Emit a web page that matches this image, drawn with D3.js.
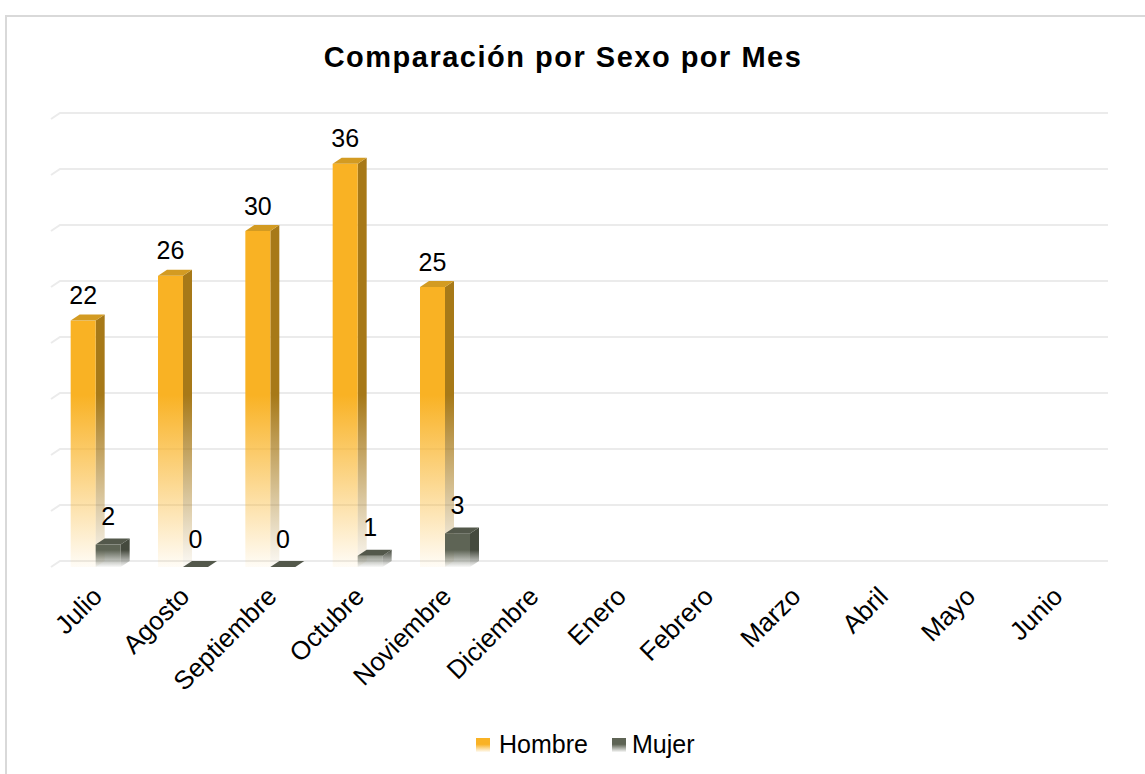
<!DOCTYPE html>
<html>
<head>
<meta charset="utf-8">
<script src="https://cdn.jsdelivr.net/npm/d3@7"></script>
<style>
  html, body { margin: 0; padding: 0; background: #ffffff; }
  svg { display: block; }
  text { font-family: "Liberation Sans", Arial, sans-serif; fill: #000; }
</style>
</head>
<body>
<script>
// ---- data ----
const months = ["Julio","Agosto","Septiembre","Octubre","Noviembre","Diciembre","Enero","Febrero","Marzo","Abril","Mayo","Junio"];
const series = ["Hombre","Mujer"];
const hombre = [22, 26, 30, 36, 25, null, null, null, null, null, null, null];
const mujer  = [2, 0, 0, 1, 3, null, null, null, null, null, null, null];
const yTicks = [0, 5, 10, 15, 20, 25, 30, 35, 40];
const title = "Comparación por Sexo por Mes";

// ---- layout ----
const W = 1145, H = 774;
const DX = 9, DY = 6;          // 3D depth offset
const svg = d3.select("body").append("svg").attr("width", W).attr("height", H);

const y = d3.scaleLinear().domain([0, 40]).range([561, 113]);   // back wall
const x0 = d3.scaleBand().domain(months).range([52, 1100]).paddingInner(0.4275).paddingOuter(0.21375);
const x1 = d3.scaleBand().domain(series).range([0, x0.bandwidth()]);

const colors = {
  Hombre: { front: "#F9B224", side: "#A77918", top: "#D39B22", fadeStart: 395, labelOff: 10.5 },
  Mujer:  { front: "#5E6455", side: "#454A3E", top: "#53584B", fadeStart: 550, labelOff: 13.5 }
};

// frame
svg.append("path").attr("d", `M6,${H} L6,16 L${W},16`).attr("fill", "none")
  .attr("stroke", "#d9d9d9").attr("stroke-width", 2);

// gradients
const defs = svg.append("defs");
const floorFront = y(0) + DY;
series.forEach(s => {
  ["front", "side"].forEach(face => {
    const g = defs.append("linearGradient").attr("id", `g-${s}-${face}`)
      .attr("gradientUnits", "userSpaceOnUse")
      .attr("x1", 0).attr("x2", 0).attr("y1", colors[s].fadeStart).attr("y2", floorFront);
    g.append("stop").attr("offset", "0%").attr("stop-color", colors[s][face]).attr("stop-opacity", 1);
    g.append("stop").attr("offset", "100%").attr("stop-color", colors[s][face]).attr("stop-opacity", 0.04);
  });
  const lg = defs.append("linearGradient").attr("id", `lg-${s}`)
    .attr("x1", 0).attr("x2", 0).attr("y1", 0).attr("y2", 1);
  lg.append("stop").attr("offset", "45%").attr("stop-color", colors[s].front).attr("stop-opacity", 1);
  lg.append("stop").attr("offset", "100%").attr("stop-color", colors[s].front).attr("stop-opacity", 0.05);
});

// gridlines (back wall + side-wall diagonal)
const x0Left = x0.range()[0];
const x0Right = x0.range()[1];
svg.append("g").selectAll("path").data(yTicks).join("path")
  .attr("d", t => `M${x0Left - 1},${y(t) + DY} L${x0Left + DX - 1},${y(t)} L${x0Right + DX - 1},${y(t)}`)
  .attr("fill", "none").attr("stroke", "#ebebeb").attr("stroke-width", 2);

// title
svg.append("text").attr("x", 563).attr("y", 66.5).attr("text-anchor", "middle")
  .style("font-size", "29px").style("font-weight", "bold").style("letter-spacing", "1.5px")
  .text(title);

// bars
const rows = [];
months.forEach((m, i) => {
  if (hombre[i] != null) rows.push({ m, s: "Hombre", v: hombre[i] });
  if (mujer[i] != null) rows.push({ m, s: "Mujer", v: mujer[i] });
});
const bw = x1.bandwidth();
const bars = svg.append("g").selectAll("g").data(rows).join("g");
bars.each(function (d) {
  const g = d3.select(this);
  const xl = x0(d.m) + x1(d.s), xr = xl + bw;
  const yt = y(d.v) + DY, yb = floorFront;
  const c = colors[d.s];
  if (d.v > 0) {
    g.append("path")
      .attr("d", `M${xr},${yt} L${xr + DX},${yt - DY} L${xr + DX},${yb - DY} L${xr},${yb} Z`)
      .attr("fill", `url(#g-${d.s}-side)`);
    g.append("rect").attr("x", xl).attr("y", yt).attr("width", bw).attr("height", yb - yt)
      .attr("fill", `url(#g-${d.s}-front)`);
  }
  g.append("path")
    .attr("d", `M${xl},${yt} L${xr},${yt} L${xr + DX},${yt - DY} L${xl + DX},${yt - DY} Z`)
    .attr("fill", c.top);
});

// data labels
svg.append("g").selectAll("text").data(rows).join("text")
  .attr("x", d => x0(d.m) + x1(d.s) + bw / 2)
  .attr("y", d => y(d.v) - colors[d.s].labelOff)
  .attr("text-anchor", "middle")
  .style("font-size", "25px")
  .text(d => d.v);

// x axis labels
svg.append("g").selectAll("text").data(months).join("text")
  .attr("transform", m => `translate(${x0(m) + x0.bandwidth() / 2 + 8},598) rotate(-45)`)
  .attr("text-anchor", "end")
  .style("font-size", "26px")
  .text(m => m);

// legend
const legend = [
  { s: "Hombre", sx: 476, tx: 499 },
  { s: "Mujer", sx: 612, tx: 632 }
];
const lg = svg.append("g").selectAll("g").data(legend).join("g");
lg.append("rect").attr("x", d => d.sx).attr("y", 738).attr("width", 14).attr("height", 14)
  .attr("fill", d => `url(#lg-${d.s})`);
lg.append("text").attr("x", d => d.tx).attr("y", 753).style("font-size", "25px").text(d => d.s);
</script>
</body>
</html>
